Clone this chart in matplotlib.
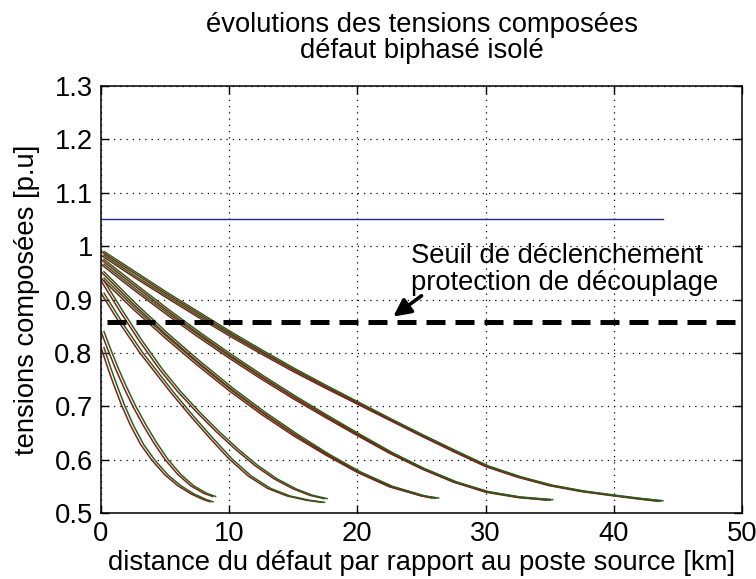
import numpy as np
import matplotlib
matplotlib.use('Agg')
import matplotlib.pyplot as plt
from matplotlib.transforms import offset_copy

plt.rcParams['font.family'] = ['Liberation Sans', 'DejaVu Sans']

# Line voltages along the feeder for a two-phase isolated fault,
# one group of two curves per feeder length
g1a_x = [0, 0.55, 1.0, 1.6, 2.3, 3.1, 4.0, 5.0, 6.0, 7.0, 8.0, 8.5]
g1a_y = [0.81, 0.77, 0.74, 0.702, 0.664, 0.628, 0.598, 0.571, 0.551, 0.536, 0.525, 0.521]
g1b_x = [0, 0.5, 1.1, 1.8, 2.5, 3.3, 4.1, 5.0, 6.0, 7.0, 8.0, 8.7]
g1b_y = [0.84, 0.808, 0.772, 0.734, 0.699, 0.664, 0.632, 0.60, 0.572, 0.551, 0.537, 0.531]

g2a_x = [0, 1.5, 3.0, 4.1, 5.5, 7.0, 8.5, 10.0, 11.5, 13.0, 14.5, 16.0, 17.2]
g2a_y = [0.912, 0.854, 0.801, 0.767, 0.724, 0.681, 0.64, 0.601, 0.569, 0.546, 0.532, 0.524, 0.52]
g2b_x = [0, 1.5, 3.0, 4.6, 6.0, 7.5, 9.0, 10.5, 12.0, 13.5, 15.0, 16.3, 17.4]
g2b_y = [0.935, 0.877, 0.822, 0.768, 0.727, 0.688, 0.652, 0.619, 0.589, 0.564, 0.545, 0.533, 0.527]

g3a_x = [0, 2.5, 5, 7.5, 10, 12.5, 15, 17.5, 20, 22.5, 25, 25.8]
g3a_y = [0.94, 0.882, 0.828, 0.777, 0.729, 0.685, 0.645, 0.609, 0.576, 0.549, 0.532, 0.528]
g3b_x = [0, 2.5, 5, 7.5, 10, 12.5, 15, 17.5, 20, 22.5, 25, 26.1]
g3b_y = [0.952, 0.892, 0.836, 0.784, 0.735, 0.69, 0.649, 0.611, 0.577, 0.55, 0.532, 0.528]

g4a_x = [0, 2.5, 5, 7.5, 10, 12.5, 15, 17.5, 20, 22.5, 25, 27.5, 30, 32.5, 34.8]
g4a_y = [0.966, 0.919, 0.874, 0.831, 0.79, 0.751, 0.714, 0.679, 0.645, 0.612, 0.583, 0.558, 0.539, 0.529, 0.524]
g4b_x = [0, 2.5, 5, 7.5, 10, 12.5, 15, 17.5, 20, 22.5, 25, 27.5, 30, 32.5, 35]
g4b_y = [0.975, 0.928, 0.882, 0.838, 0.796, 0.756, 0.718, 0.682, 0.647, 0.613, 0.583, 0.558, 0.54, 0.53, 0.525]

g5a_x = [0, 2.5, 5, 7.5, 10, 12.5, 15, 17.5, 20, 22.5, 25, 27.5, 30, 32.5, 35, 37.5, 40, 42, 43.4]
g5a_y = [0.983, 0.943, 0.905, 0.868, 0.832, 0.798, 0.765, 0.734, 0.704, 0.674, 0.644, 0.615,
         0.587, 0.567, 0.551, 0.54, 0.532, 0.526, 0.522]
g5b_x = [0, 2.5, 5, 7.5, 10, 12.5, 15, 17.5, 20, 22.5, 25, 27.5, 30, 32.5, 35, 37.5, 40, 42, 43.6]
g5b_y = [0.99, 0.951, 0.912, 0.875, 0.838, 0.803, 0.769, 0.737, 0.706, 0.675, 0.645, 0.616,
         0.588, 0.568, 0.552, 0.541, 0.533, 0.527, 0.523]

curves = [(g1a_x, g1a_y), (g1b_x, g1b_y), (g2a_x, g2a_y), (g2b_x, g2b_y),
          (g3a_x, g3a_y), (g3b_x, g3b_y), (g4a_x, g4a_y), (g4b_x, g4b_y),
          (g5a_x, g5a_y), (g5b_x, g5b_y)]

# nominal upper limit and decoupling protection threshold
limit_x = [0, 43.8]
limit_y = [1.05, 1.05]
seuil_x = [0.5, 50]
seuil_y = [0.857, 0.857]

xticks = [0, 10, 20, 30, 40, 50]
yticks = [0.5, 0.6, 0.7, 0.8, 0.9, 1.0, 1.1, 1.2, 1.3]
ylabels = ['0.5', '0.6', '0.7', '0.8', '0.9', '1', '1.1', '1.2', '1.3']

fs = 19.7

fig = plt.figure(figsize=(7.56, 5.79), dpi=100)
ax = fig.add_axes([101/756, 1 - 513/579, 641/756, 427/579])

# green trace drawn a few pixels to the right of the red one
shifted = offset_copy(ax.transData, fig=fig, x=3.0, y=0, units='dots')
for cx, cy in curves:
    ax.plot(cx, cy, color='#7a2414', lw=1.1)
    ax.plot(cx, cy, color='#2a5f1e', lw=1.1, transform=shifted)

ax.plot(limit_x, limit_y, color='#1f2a80', lw=1.0)
ax.plot(seuil_x, seuil_y, color='k', lw=3.6, dashes=(3.8, 2.0))

ax.text(24.2, 0.957, 'Seuil de déclenchement\nprotection de découplage',
        ha='left', va='center', fontsize=fs, linespacing=1.05)
ax.annotate('', xy=(22.8, 0.868), xytext=(25.0, 0.907),
            arrowprops=dict(arrowstyle='-|>', color='k', lw=2.6,
                            mutation_scale=26, shrinkA=0, shrinkB=0))

ax.set_xlim(0, 50)
ax.set_ylim(0.5, 1.3)
ax.set_xticks(xticks)
ax.set_yticks(yticks)
ax.set_yticklabels(ylabels)
ax.tick_params(direction='in', top=True, right=True, length=6, width=1,
               labelsize=fs, pad=6)
ax.grid(True, color='k', linestyle=(0, (1, 4)), lw=0.9)
for sp in ax.spines.values():
    sp.set_linewidth(1.1)

ax.set_title('évolutions des tensions composées\ndéfaut biphasé isolé',
             fontsize=fs, linespacing=1.0, pad=20)
ax.set_xlabel('distance du défaut par rapport au poste source [km]', fontsize=fs, labelpad=2)
ax.set_ylabel('tensions composées [p.u]', fontsize=fs, labelpad=10)

fig.savefig('out.png', dpi=100)
